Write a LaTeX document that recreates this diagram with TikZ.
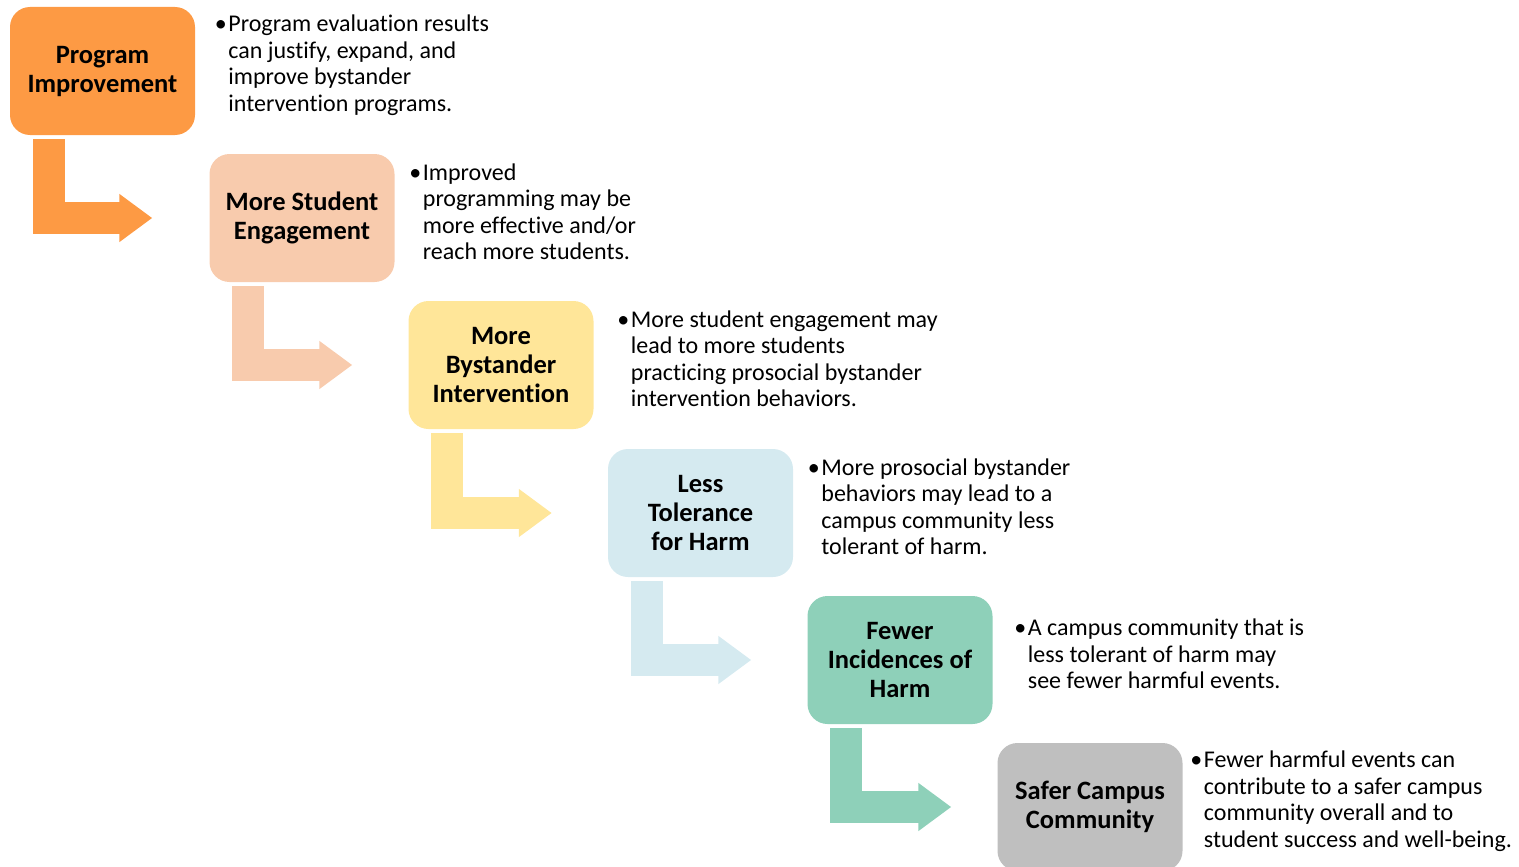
\documentclass[tikz,border=0pt]{standalone}
\usepackage{fontspec}
\setmainfont{Carlito}[Ligatures=NoCommon]
\usepackage{xcolor}
\usetikzlibrary{arrows.meta}

\definecolor{c1}{HTML}{FD9A44}
\definecolor{c2}{HTML}{F8CBAD}
\definecolor{c3}{HTML}{FFE699}
\definecolor{c4}{HTML}{D5EAF0}
\definecolor{c5}{HTML}{8ED0B9}
\definecolor{c6}{HTML}{BFBFBF}

\begin{document}
\begin{tikzpicture}[
        x = 1pt, y = -1pt, % pixel-like units, y grows downwards
        box/.style = {rounded corners=20pt, minimum width=185pt,
            minimum height=128pt, inner sep=0pt, align=center,
            font=\fontsize{26.5pt}{29pt}\selectfont\bfseries},
        note/.style = {anchor=west, inner sep=0pt, align=left,
            font=\fontsize{24pt}{26.5pt}\selectfont},
        bent/.style = {line width=32pt, line join=miter,
            -{Triangle[length=33pt, width=46pt]}},
    ]
        \useasboundingbox (0,0) rectangle (1519,867);
        \clip (0,0) rectangle (1519,867);

        % Draw the steps
        \foreach \pos/\i/\txt in {
            (102.5,71)/1/{Program\\Improvement},
            (302,218)/2/{More Student\\Engagement},
            (501,365)/3/{More\\Bystander\\Intervention},
            (700.5,513)/4/{Less\\Tolerance\\for Harm},
            (900,660)/5/{Fewer\\Incidences of\\Harm},
            (1090,807)/6/{Safer Campus\\Community}} {
            \node[box, fill=c\i] (b\i) at \pos {\txt};
        }

        % Draw the bullet notes
        \foreach \i/\dx/\txt in {
            1/33/{Program evaluation results\\can justify, expand, and\\improve bystander\\intervention programs.},
            2/28/{Improved\\programming may be\\more effective and/or\\reach more students.},
            3/37/{More student engagement may\\lead to more students\\practicing prosocial bystander\\intervention behaviors.},
            4/28/{More prosocial bystander\\behaviors may lead to a\\campus community less\\tolerant of harm.},
            5/35/{A campus community that is\\less tolerant of harm may\\see fewer harmful events.},
            6/21/{Fewer harmful events can\\contribute to a safer campus\\community overall and to\\student success and well-being.}} {
            \node[note] (n\i) at ([xshift=\dx pt, yshift=6pt]b\i.east)
                {\llap{\textbullet\hspace{1.5pt}}\txt};
        }

        % Draw the bent arrows
        \foreach \b/\e/\gap in {
            1/2/57,
            2/3/56,
            3/4/56,
            4/5/56,
            5/6/46} {
            \draw[bent, c\b] ([xshift=39pt, yshift=-4pt]b\b.south west)
                |- ([xshift=-\gap pt]b\e.west);
        }
    \end{tikzpicture}
\end{document}
